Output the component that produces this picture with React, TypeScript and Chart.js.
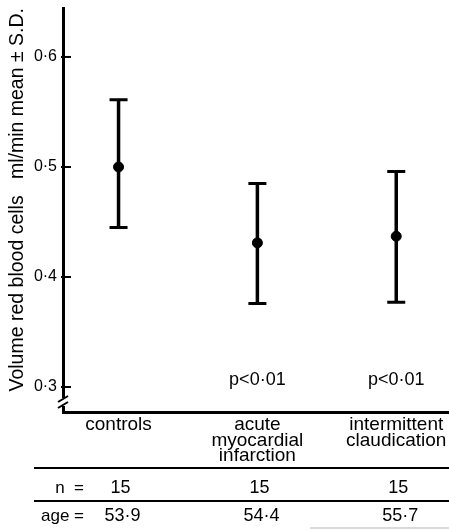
import { useEffect, useRef } from 'react';
import { Chart, registerables } from 'chart.js';

Chart.register(...registerables);

const categories: string[][] = [['controls'], ['acute', 'myocardial', 'infarction'], ['intermittent', 'claudication']];
const means = [0.5, 0.431, 0.437];
const upperSD = [0.561, 0.485, 0.496];
const lowerSD = [0.445, 0.376, 0.377];
const pLabels = ['', 'p<0·01', 'p<0·01'];
const nValues = ['15', '15', '15'];
const ageValues = ['53·9', '54·4', '55·7'];
const yTicks = [0.3, 0.4, 0.5, 0.6];
const yTitle = 'Volume red blood cells   ml/min mean ± S.D.';

const FONT = "'Liberation Sans', Arial, sans-serif";

const overlay = {
  id: 'overlay',
  beforeDatasetsDraw(chart: any) {
    const { ctx, scales } = chart;
    const x = scales.x;
    const y = scales.y;
    ctx.save();
    ctx.strokeStyle = '#000';
    means.forEach((_, i) => {
      const px = x.getPixelForValue(i + 1);
      const yt = y.getPixelForValue(upperSD[i]);
      const yb = y.getPixelForValue(lowerSD[i]);
      ctx.lineWidth = 3.5;
      ctx.beginPath();
      ctx.moveTo(px, yt);
      ctx.lineTo(px, yb);
      ctx.stroke();
      ctx.lineWidth = 3;
      ctx.beginPath();
      ctx.moveTo(px - 9, yt);
      ctx.lineTo(px + 9, yt);
      ctx.moveTo(px - 9, yb);
      ctx.lineTo(px + 9, yb);
      ctx.stroke();
    });
    ctx.restore();
  },
  afterDraw(chart: any) {
    const { ctx, chartArea, scales, width } = chart;
    const x = scales.x;
    const y = scales.y;
    const left = chartArea.left;
    ctx.save();
    ctx.strokeStyle = '#000';
    ctx.fillStyle = '#000';
    // y tick marks
    ctx.lineWidth = 2;
    yTicks.forEach((v) => {
      const py = y.getPixelForValue(v);
      ctx.beginPath();
      ctx.moveTo(left - 2, py);
      ctx.lineTo(left + 8, py);
      ctx.stroke();
    });
    // axis break
    ctx.fillStyle = '#fff';
    ctx.fillRect(left - 4, 398, 8, 8);
    ctx.fillStyle = '#000';
    ctx.lineWidth = 2;
    [399, 405].forEach((cy) => {
      ctx.beginPath();
      ctx.moveTo(left - 5, cy + 3);
      ctx.lineTo(left + 5, cy - 3);
      ctx.stroke();
    });
    // p labels
    ctx.font = `18px ${FONT}`;
    ctx.textAlign = 'center';
    ctx.textBaseline = 'middle';
    pLabels.forEach((t, i) => {
      if (t) ctx.fillText(t, x.getPixelForValue(i + 1), 380);
    });
    // table lines
    ctx.lineWidth = 2;
    ctx.beginPath();
    ctx.moveTo(34, 468);
    ctx.lineTo(width, 468);
    ctx.moveTo(34, 501);
    ctx.lineTo(width, 501);
    ctx.stroke();
    ctx.strokeStyle = '#ccc';
    ctx.lineWidth = 1.5;
    ctx.beginPath();
    ctx.moveTo(310, 528);
    ctx.lineTo(width, 528);
    ctx.stroke();
    // table text
    ctx.font = `17px ${FONT}`;
    ctx.textAlign = 'right';
    ctx.fillText('n  =', 84, 488);
    ctx.fillText('age =', 84, 516);
    ctx.font = `18px ${FONT}`;
    ctx.textAlign = 'center';
    nValues.forEach((t, i) => ctx.fillText(t, x.getPixelForValue(i + 1) + 2, 488));
    ageValues.forEach((t, i) => ctx.fillText(t, x.getPixelForValue(i + 1) + 4, 516));
    ctx.restore();
  },
};

export default function App() {
  const ref = useRef<HTMLCanvasElement | null>(null);
  useEffect(() => {
    if (!ref.current) return;
    const chart = new Chart(ref.current, {
      type: 'scatter',
      data: {
        datasets: [
          {
            data: means.map((m, i) => ({ x: i + 1, y: m })),
            backgroundColor: '#000',
            borderColor: '#000',
            pointRadius: 5,
            pointHoverRadius: 5,
          },
        ],
      },
      options: {
        animation: false,
        responsive: false,
        devicePixelRatio: 1,
        layout: { autoPadding: false, padding: { top: 8, left: 0, right: 0, bottom: 0 } },
        plugins: { legend: { display: false }, tooltip: { enabled: false } },
        events: [],
        scales: {
          x: {
            type: 'linear',
            min: 0.6,
            max: 3.38,
            afterBuildTicks: (s: any) => {
              s.ticks = categories.map((_, i) => ({ value: i + 1 }));
            },
            afterFit: (s: any) => {
              s.height = 118;
              s.paddingLeft = 0;
              s.paddingRight = 0;
            },
            grid: { display: false, drawTicks: false },
            border: { display: true, width: 3, color: '#000' },
            ticks: {
              color: '#000',
              font: { family: FONT, size: 19, lineHeight: 0.82 },
              padding: 5,
              maxRotation: 0,
              autoSkip: false,
              callback: (_v: any, idx: number) => categories[idx],
            },
          },
          y: {
            type: 'linear',
            min: 0.2773,
            max: 0.6445,
            afterBuildTicks: (s: any) => {
              s.ticks = yTicks.map((v) => ({ value: v }));
            },
            afterFit: (s: any) => {
              s.width = 63;
              s.paddingTop = 0;
              s.paddingBottom = 0;
            },
            grid: { display: false, drawTicks: false },
            border: { display: true, width: 3, color: '#000' },
            ticks: {
              color: '#000',
              font: { family: FONT, size: 16 },
              padding: 6,
              callback: (v: any) => Number(v).toFixed(1).replace('.', '·'),
            },
            title: {
              display: true,
              text: yTitle,
              align: 'end',
              color: '#000',
              font: { family: FONT, size: 19.5 },
              padding: { top: 6, bottom: 0 },
            },
          },
        },
      },
      plugins: [overlay],
    });
    return () => chart.destroy();
  }, []);
  return (
    <div style={{ position: 'absolute', left: 0, top: 0, width: 449, height: 530, background: '#fff' }}>
      <canvas ref={ref} width={449} height={530} />
    </div>
  );
}
